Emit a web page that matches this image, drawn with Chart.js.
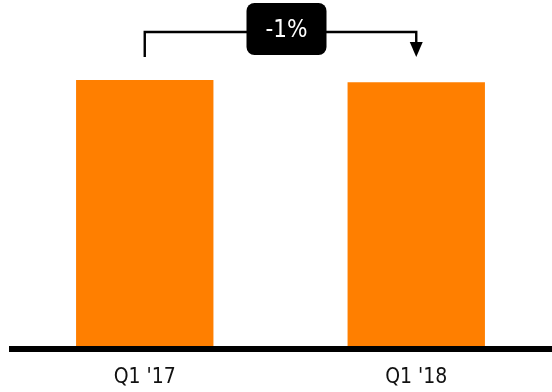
<!DOCTYPE html>
<html>
<head>
<meta charset="utf-8">
<script src="https://cdn.jsdelivr.net/npm/chart.js@4.4.0/dist/chart.umd.min.js"></script>
<style>
  html, body { margin: 0; padding: 0; background: #fff; }
  #wrap { width: 552px; height: 392px; }
</style>
</head>
<body>
<div id="wrap"><canvas id="barChart" width="552" height="392"></canvas></div>
<script>
// du lieu
const categories = ["Q1 '17", "Q1 '18"];
const values = [100, 99.2];
const changeLabel = "-1%";

const ORANGE = "#ff7f00";
const FONT = "'DejaVu Sans Condensed', 'DejaVu Sans', sans-serif";

// duong day den + mui ten % thay doi
const decorPlugin = {
  id: "decor",
  afterDatasetsDraw(chart) {
    const ctx = chart.ctx;
    const area = chart.chartArea;
    const x = chart.scales.x;

    // baseline
    ctx.save();
    ctx.fillStyle = "#000";
    ctx.fillRect(area.left, area.bottom, chart.width - area.left, 6);

    // bracket tu cot 1 sang cot 2
    const x1 = x.getPixelForValue(0);
    const x2 = x.getPixelForValue(1);
    const yTop = 32;
    const yEnd = 57;
    ctx.strokeStyle = "#000";
    ctx.lineWidth = 2.4;
    ctx.beginPath();
    ctx.moveTo(x1, yEnd);
    ctx.lineTo(x1, yTop);
    ctx.lineTo(x2, yTop);
    ctx.lineTo(x2, yEnd - 14);
    ctx.stroke();

    ctx.fillStyle = "#000";
    ctx.beginPath();
    ctx.moveTo(x2 - 6.5, yEnd - 15);
    ctx.lineTo(x2 + 6.5, yEnd - 15);
    ctx.lineTo(x2, yEnd);
    ctx.closePath();
    ctx.fill();

    // hop nhan
    const cx = (x1 + x2) / 2 + 6;
    const bw = 80, bh = 52;
    ctx.beginPath();
    ctx.roundRect(cx - bw / 2, 3, bw, bh, 8);
    ctx.fill();

    ctx.fillStyle = "#fff";
    ctx.font = "24px " + FONT;
    ctx.textAlign = "center";
    ctx.textBaseline = "middle";
    ctx.fillText(changeLabel, cx, 31);
    ctx.restore();
  }
};

new Chart(document.getElementById("barChart"), {
  type: "bar",
  data: {
    labels: categories,
    datasets: [{
      data: values,
      backgroundColor: ORANGE,
      borderWidth: 0,
      categoryPercentage: 1,
      barPercentage: 0.506
    }]
  },
  options: {
    responsive: false,
    animation: false,
    layout: { padding: { left: 9, right: 0, top: 80, bottom: 0 } },
    plugins: {
      legend: { display: false },
      tooltip: { enabled: false }
    },
    scales: {
      x: {
        grid: { display: false, drawTicks: false },
        border: { display: false },
        ticks: {
          color: "#111",
          padding: 19,
          maxRotation: 0,
          font: { family: FONT, size: 21 }
        },
        afterFit: (scale) => { scale.height = 46; }
      },
      y: {
        display: false,
        min: 0,
        max: 100
      }
    }
  },
  plugins: [decorPlugin]
});
</script>
</body>
</html>
